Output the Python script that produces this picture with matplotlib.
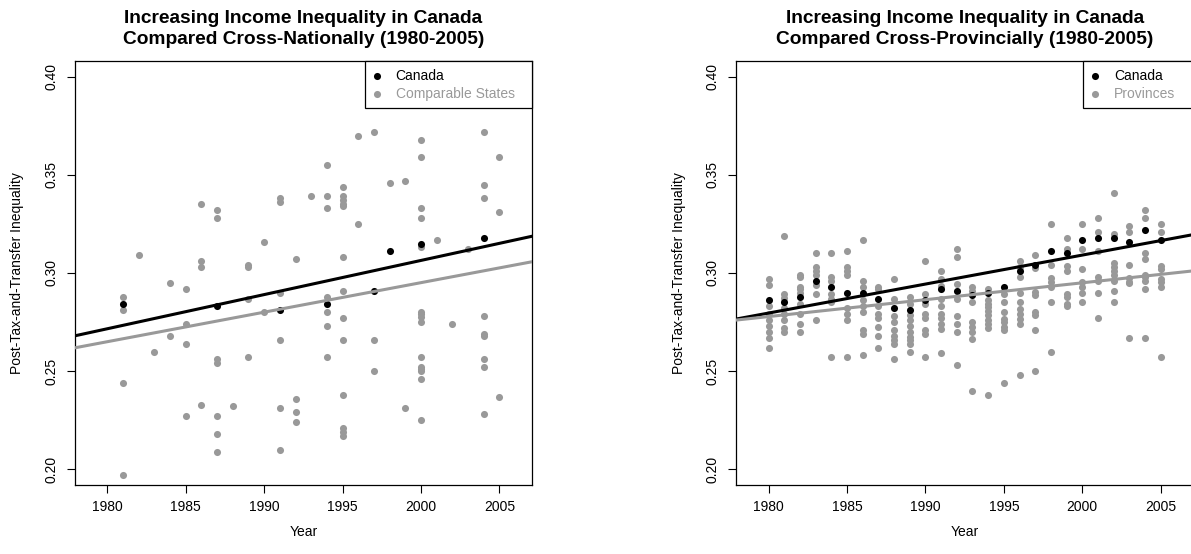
import numpy as np
import matplotlib
matplotlib.use('Agg')
import matplotlib.pyplot as plt

plt.rcParams['font.family'] = ['Liberation Sans', 'DejaVu Sans']

# ── Data: cross-national panel ────────────────────────────────────────────────
nat_canada_years = [1981, 1987, 1991, 1994, 1997, 1998, 2000, 2004]
nat_canada_vals = [0.284, 0.283, 0.281, 0.284, 0.291, 0.311, 0.315, 0.318]

nat_state_years = [1981, 1982, 1983, 1984, 1985, 1986, 1987, 1988, 1989, 1990,
                   1991, 1992, 1993, 1994, 1995, 1996, 1997, 1998, 1999, 2000,
                   2001, 2002, 2003, 2004, 2005]
nat_state_vals = [
    [0.288, 0.281, 0.244, 0.197],
    [0.309],
    [0.260],
    [0.295, 0.268],
    [0.292, 0.274, 0.264, 0.227],
    [0.335, 0.306, 0.303, 0.233],
    [0.332, 0.328, 0.256, 0.254, 0.227, 0.218, 0.209],
    [0.232],
    [0.304, 0.303, 0.287, 0.257],
    [0.316, 0.280],
    [0.338, 0.336, 0.290, 0.266, 0.231, 0.210],
    [0.307, 0.236, 0.229, 0.224],
    [0.339],
    [0.355, 0.339, 0.333, 0.288, 0.280, 0.273, 0.257],
    [0.344, 0.339, 0.337, 0.335, 0.334, 0.308, 0.291, 0.277, 0.266, 0.238,
     0.221, 0.219, 0.217],
    [0.370, 0.325],
    [0.372, 0.266, 0.250],
    [0.346],
    [0.347, 0.231],
    [0.368, 0.359, 0.333, 0.328, 0.313, 0.280, 0.279, 0.2775, 0.275, 0.257,
     0.252, 0.251, 0.250, 0.246, 0.225],
    [0.317],
    [0.274],
    [0.312],
    [0.372, 0.345, 0.338, 0.278, 0.269, 0.268, 0.256, 0.252, 0.228],
    [0.359, 0.331, 0.237],
]

# fitted trend values at 1980 and 2005
fit_years = [1980, 2005]
nat_fit_canada = [0.2716, 0.3151]
nat_fit_states = [0.2650, 0.3026]

# ── Data: cross-provincial panel ──────────────────────────────────────────────
prov_years = [1980, 1981, 1982, 1983, 1984, 1985, 1986, 1987, 1988, 1989,
              1990, 1991, 1992, 1993, 1994, 1995, 1996, 1997, 1998, 1999,
              2000, 2001, 2002, 2003, 2004, 2005]
prov_canada_vals = [0.286, 0.285, 0.288, 0.296, 0.293, 0.290, 0.290, 0.287,
                    0.282, 0.281, 0.286, 0.292, 0.291, 0.289, 0.290, 0.293,
                    0.301, 0.304, 0.311, 0.310, 0.317, 0.318, 0.318, 0.316,
                    0.322, 0.317]
prov_vals = [
    [0.297, 0.294, 0.283, 0.279, 0.276, 0.273, 0.270, 0.267, 0.262],
    [0.319, 0.2895, 0.2875, 0.282, 0.279, 0.276, 0.272, 0.270],
    [0.299, 0.298, 0.293, 0.292, 0.290, 0.284, 0.279, 0.274, 0.270],
    [0.310, 0.303, 0.301, 0.299, 0.294, 0.2895, 0.276],
    [0.310, 0.298, 0.296, 0.2895, 0.287, 0.285, 0.257],
    [0.311, 0.303, 0.301, 0.299, 0.282, 0.279, 0.276, 0.257],
    [0.317, 0.296, 0.293, 0.286, 0.283, 0.280, 0.271, 0.269, 0.258],
    [0.293, 0.292, 0.283, 0.279, 0.277, 0.2725, 0.268, 0.262],
    [0.297, 0.287, 0.278, 0.275, 0.271, 0.268, 0.266, 0.264, 0.256],
    [0.288, 0.284, 0.2785, 0.276, 0.273, 0.270, 0.2675, 0.266, 0.264, 0.260],
    [0.306, 0.2895, 0.284, 0.279, 0.277, 0.271, 0.269, 0.257],
    [0.301, 0.297, 0.2935, 0.287, 0.283, 0.279, 0.277, 0.274, 0.2717, 0.259],
    [0.312, 0.308, 0.2946, 0.287, 0.278, 0.274, 0.270, 0.253],
    [0.293, 0.291, 0.285, 0.275, 0.2725, 0.270, 0.2665, 0.240],
    [0.292, 0.286, 0.2844, 0.2827, 0.2807, 0.2785, 0.276, 0.274, 0.272, 0.238],
    [0.2895, 0.285, 0.280, 0.2768, 0.275, 0.2725, 0.271, 0.244],
    [0.306, 0.303, 0.298, 0.290, 0.285, 0.2815, 0.2793, 0.2768, 0.274, 0.248],
    [0.309, 0.3025, 0.2903, 0.289, 0.280, 0.2785, 0.271, 0.250],
    [0.325, 0.304, 0.2976, 0.2955, 0.293, 0.285, 0.260],
    [0.318, 0.312, 0.3036, 0.301, 0.2895, 0.2878, 0.2844, 0.2832],
    [0.325, 0.312, 0.302, 0.2955, 0.293, 0.290, 0.285],
    [0.328, 0.321, 0.311, 0.298, 0.296, 0.290, 0.277],
    [0.341, 0.320, 0.305, 0.303, 0.301, 0.299, 0.296, 0.291, 0.285],
    [0.324, 0.321, 0.304, 0.2975, 0.2955, 0.295, 0.267],
    [0.332, 0.328, 0.310, 0.307, 0.299, 0.298, 0.296, 0.292, 0.267],
    [0.325, 0.321, 0.3036, 0.302, 0.297, 0.2955, 0.293, 0.257],
]
prov_fit_canada = [0.2796, 0.3165]
prov_fit_prov = [0.2778, 0.2993]

x_ticks = [1980, 1985, 1990, 1995, 2000, 2005]
y_ticks = [0.20, 0.25, 0.30, 0.35, 0.40]

GREY = '#999999'


def flatten(years, groups):
    xs = np.repeat(years, [len(g) for g in groups])
    ys = np.concatenate([np.asarray(g, float) for g in groups])
    return xs, ys


def draw_panel(ax, title, grey_label, gx, gy, cx, cy, fit_c, fit_g, leg_w):
    ax.scatter(gx, gy, s=26, color=GREY, linewidths=0, zorder=2, label=grey_label)
    ax.scatter(cx, cy, s=26, color='black', linewidths=0, zorder=3, label='Canada')
    ax.axline((fit_years[0], fit_c[0]), (fit_years[1], fit_c[1]),
              color='black', lw=2.2, zorder=4)
    ax.axline((fit_years[0], fit_g[0]), (fit_years[1], fit_g[1]),
              color=GREY, lw=2.2, zorder=4)

    ax.set_xlim(1977.92, 2007.08)
    ax.set_ylim(0.192, 0.408)
    ax.set_xticks(x_ticks)
    ax.set_yticks(y_ticks)
    ax.set_yticklabels([f'{v:.2f}' for v in y_ticks], rotation=90, va='center')
    ax.tick_params(axis='both', length=5.8, width=0.8, labelsize=10)
    ax.tick_params(axis='x', pad=5)
    ax.tick_params(axis='y', pad=6)
    for sp in ax.spines.values():
        sp.set_linewidth(0.9)
        sp.set_color('black')

    ax.set_title(title, fontsize=13.8, fontweight='bold', pad=12, linespacing=1.32)
    ax.set_xlabel('Year', fontsize=10)
    ax.set_ylabel('Post-Tax-and-Transfer Inequality', fontsize=10)
    ax.xaxis.set_label_coords(0.5, -0.095)
    ax.yaxis.set_label_coords(-0.11, 0.5)

    handles, labels = ax.get_legend_handles_labels()
    order = [1, 0]
    leg = ax.legend([handles[i] for i in order], [labels[i] for i in order],
                    loc='upper right', bbox_to_anchor=(1 - leg_w, 0, leg_w, 1),
                    mode='expand', borderaxespad=0, fontsize=10,
                    fancybox=False, framealpha=1, edgecolor='black',
                    borderpad=0.55, handlelength=0.6, handletextpad=1.05,
                    labelspacing=0.3, scatterpoints=1)
    leg.get_frame().set_linewidth(0.9)
    leg.get_texts()[1].set_color(GREY)


fig = plt.figure(figsize=(11.91, 5.54), dpi=100)
W, H = 1191, 554
ax1 = fig.add_axes([74.7 / W, (H - 485) / H, 457.3 / W, 424 / H])
ax2 = fig.add_axes([736 / W, (H - 485) / H, 457.3 / W, 424 / H])

gx, gy = flatten(nat_state_years, nat_state_vals)
draw_panel(ax1, 'Increasing Income Inequality in Canada\n'
                'Compared Cross-Nationally (1980-2005)',
           'Comparable States', gx, gy, nat_canada_years, nat_canada_vals,
           nat_fit_canada, nat_fit_states, 167 / 457.3)

px, py = flatten(prov_years, prov_vals)
draw_panel(ax2, 'Increasing Income Inequality in Canada\n'
                'Compared Cross-Provincially (1980-2005)',
           'Provinces', px, py, prov_years, prov_canada_vals,
           prov_fit_canada, prov_fit_prov, 110 / 457.3)

fig.savefig('out.png', dpi=100)
